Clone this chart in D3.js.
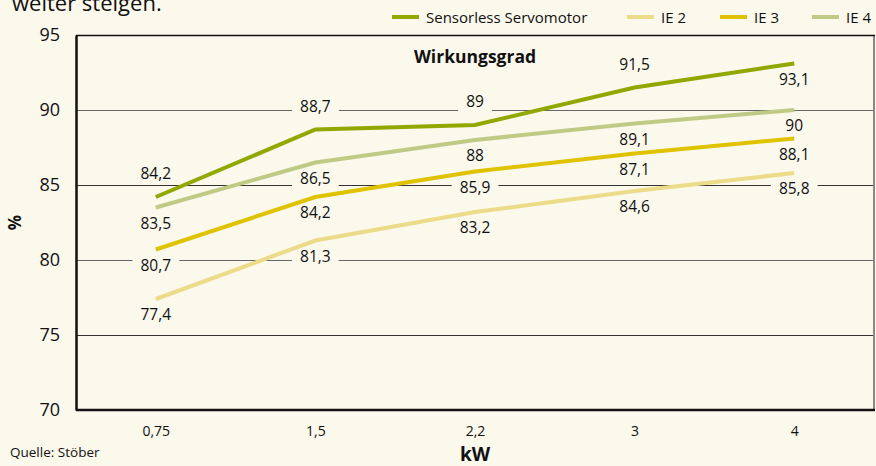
<!DOCTYPE html>
<html>
<head>
<meta charset="utf-8">
<script src="https://cdn.jsdelivr.net/npm/d3@7"></script>
<style>
	html, body { margin: 0; padding: 0; background: #fbf8ec; }
	svg { display: block; font-family: "Open Sans", "Noto Sans", sans-serif; }
</style>
</head>
<body>
<svg id="chart" width="876" height="466"></svg>
<script>
'use strict';

// kW categories
var arrayKw = ['0,75', '1,5', '2,2', '3', '4'];

// efficiency in %
var arraySensorless = [84.2, 88.7, 89, 91.5, 93.1];
var arrayIE2 = [77.4, 81.3, 83.2, 84.6, 85.8];
var arrayIE3 = [80.7, 84.2, 85.9, 87.1, 88.1];
var arrayIE4 = [83.5, 86.5, 88, 89.1, 90];

var arrayYTicks = [70, 75, 80, 85, 90, 95];

var arraySeries = [
	{ name: 'Sensorless Servomotor', values: arraySensorless, color: '#8fa900' },
	{ name: 'IE 2', values: arrayIE2, color: '#ecdb88' },
	{ name: 'IE 3', values: arrayIE3, color: '#dfc300' },
	{ name: 'IE 4', values: arrayIE4, color: '#bfcb85' }
];

var strBg = '#fbf8ec';
var strFont = '"Open Sans", "Noto Sans", sans-serif';
var svg = d3.select('#chart');

var nLeft = 76, nRight = 874, nTop = 35, nBottom = 410;

var x = d3.scalePoint().domain(arrayKw).range([nLeft, nRight]).padding(0.5);
var y = d3.scaleLinear().domain([70, 95]).range([nBottom, nTop]);

// cut-off text from the page above
svg.append('text')
	.attr('x', 12).attr('y', 11)
	.attr('font-size', 22)
	.attr('fill', '#111')
	.text('weiter steigen.');

// gridlines
svg.append('g')
	.selectAll('line')
	.data(arrayYTicks.filter(function(v) { return v > 70 && v < 95; }))
	.enter().append('line')
	.attr('x1', nLeft).attr('x2', nRight)
	.attr('y1', function(v) { return y(v) + 0.5; })
	.attr('y2', function(v) { return y(v) + 0.5; })
	.attr('stroke', function(v) { return (v == 85 || v == 75) ? '#333' : '#666'; })
	.attr('stroke-width', 1.2);

// right border
svg.append('line')
	.attr('x1', nRight).attr('x2', nRight)
	.attr('y1', nTop).attr('y2', nBottom)
	.attr('stroke', '#888').attr('stroke-width', 2);

// top border
svg.append('line')
	.attr('x1', nLeft).attr('x2', nRight + 1)
	.attr('y1', nTop + 0.5).attr('y2', nTop + 0.5)
	.attr('stroke', '#111').attr('stroke-width', 1.5);

// y axis
var yAxis = svg.append('g')
	.attr('transform', 'translate(' + nLeft + ',0)')
	.call(d3.axisLeft(y).tickValues(arrayYTicks).tickSize(0).tickPadding(16));
yAxis.select('.domain').attr('stroke', '#111').attr('stroke-width', 2.5);
yAxis.selectAll('text').attr('font-size', 18).attr('fill', '#111')
	.attr('font-family', strFont);

// x axis
var xAxis = svg.append('g')
	.attr('transform', 'translate(0,' + nBottom + ')')
	.call(d3.axisBottom(x).tickSize(0).tickPadding(16));
xAxis.select('.domain').attr('stroke', '#111').attr('stroke-width', 2.5)
	.attr('d', 'M' + nLeft + ',0H' + (nRight + 1));
xAxis.selectAll('text').attr('font-size', 14).attr('fill', '#111')
	.attr('font-family', strFont);

// axis titles
svg.append('text')
	.attr('transform', 'translate(21,' + ((nTop + nBottom) / 2) + ') rotate(-90)')
	.attr('text-anchor', 'middle')
	.attr('font-size', 17).attr('font-weight', 'bold').attr('fill', '#111')
	.text('%');

svg.append('text')
	.attr('x', x('2,2')).attr('y', 461)
	.attr('text-anchor', 'middle')
	.attr('font-size', 19).attr('font-weight', 'bold').attr('fill', '#111')
	.text('kW');

svg.append('text')
	.attr('x', 10).attr('y', 457)
	.attr('font-size', 13.5).attr('fill', '#111')
	.text('Quelle: Stöber');

svg.append('text')
	.attr('x', x('2,2')).attr('y', 63)
	.attr('text-anchor', 'middle')
	.attr('font-size', 17.5).attr('font-weight', 'bold').attr('fill', '#111')
	.text('Wirkungsgrad');

// value labels: sensorless above the line except last point, others below
var arrayLabels = [];
arraySeries.forEach(function(s, i)
{
	s.values.forEach(function(v, j)
	{
		var bAbove = (i == 0 && j < s.values.length - 1);
		arrayLabels.push({
			text: String(v).replace('.', ','),
			x: x(arrayKw[j]),
			y: y(v) + (bAbove ? -18 : 21)
		});
	});
});

var gLabelBg = svg.append('g');
var gLines = svg.append('g');
var gLabel = svg.append('g');

gLabel.selectAll('text')
	.data(arrayLabels)
	.enter().append('text')
	.attr('x', function(d) { return d.x; })
	.attr('y', function(d) { return d.y; })
	.attr('text-anchor', 'middle')
	.attr('font-size', 15.5).attr('fill', '#111')
	.text(function(d) { return d.text; });

gLabel.selectAll('text').each(function()
{
	var box = this.getBBox();
	gLabelBg.append('rect')
		.attr('x', box.x - 8).attr('y', box.y)
		.attr('width', box.width + 16).attr('height', box.height)
		.attr('fill', strBg);
});

var line = d3.line()
	.x(function(d, j) { return x(arrayKw[j]); })
	.y(function(d) { return y(d); });

gLines.selectAll('path')
	.data(arraySeries)
	.enter().append('path')
	.attr('d', function(s) { return line(s.values); })
	.attr('fill', 'none')
	.attr('stroke', function(s) { return s.color; })
	.attr('stroke-width', 4);

// legend
var arrayLegendX = [392, 627, 720, 812];
var gLegend = svg.append('g');
arraySeries.forEach(function(s, i)
{
	gLegend.append('line')
		.attr('x1', arrayLegendX[i]).attr('x2', arrayLegendX[i] + 27)
		.attr('y1', 17).attr('y2', 17)
		.attr('stroke', s.color).attr('stroke-width', 4);
	gLegend.append('text')
		.attr('x', arrayLegendX[i] + 34).attr('y', 22.5)
		.attr('font-size', 15).attr('fill', '#111')
		.text(s.name);
});
</script>
</body>
</html>
